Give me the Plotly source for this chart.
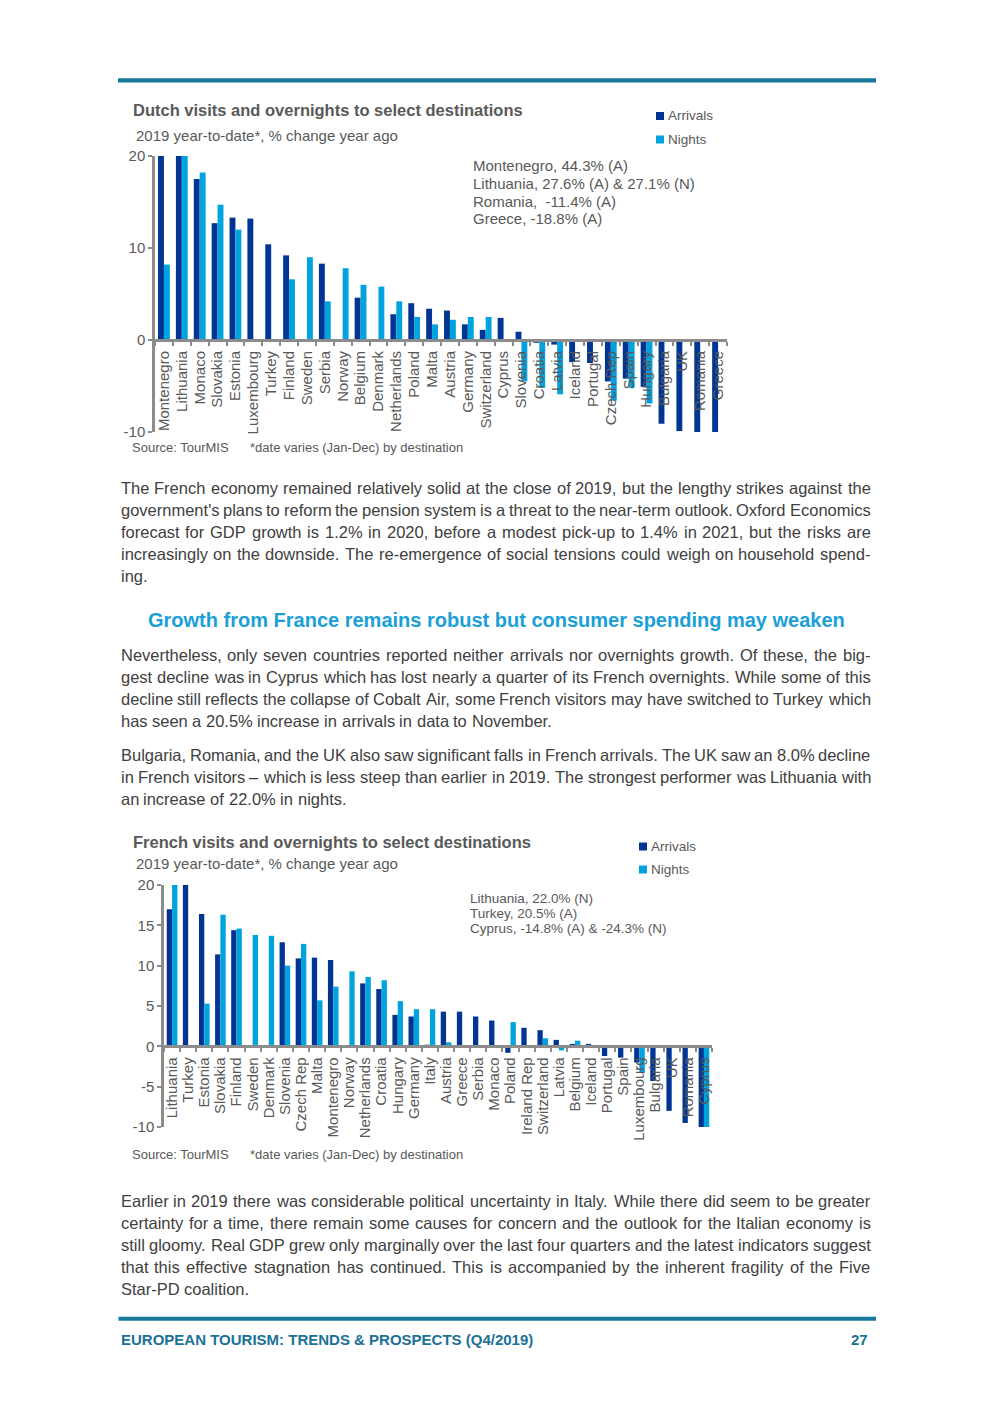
import plotly.graph_objects as go

# ---------------- data ----------------
dutch_countries = ["Montenegro", "Lithuania", "Monaco", "Slovakia", "Estonia", "Luxembourg", "Turkey",
                   "Finland", "Sweden", "Serbia", "Norway", "Belgium", "Denmark", "Netherlands", "Poland",
                   "Malta", "Austria", "Germany", "Switzerland", "Cyprus", "Slovenia", "Croatia", "Latvia",
                   "Iceland", "Portugal", "Czech Rep", "Spain", "Hungary", "Bulgaria", "UK", "Romania", "Greece"]
dutch_arrivals = [44.3, 27.6, 17.5, 12.7, 13.3, 13.2, 10.4, 9.2, None, 8.3, None, 4.6, None, 2.8, 4.0,
                  3.4, 3.2, 1.7, 1.1, 2.4, 0.9, -0.3, -0.5, -2.4, -2.5, -4.5, -4.2, -5.1, -9.1, -9.9, -11.4, -18.8]
dutch_nights = [8.2, 27.1, 18.2, 14.7, 12.0, -0.2, None, 6.6, 9.0, 4.2, 7.8, 6.0, 5.8, 4.2, 2.5,
                1.7, 2.2, 2.5, 2.5, None, -4.5, -5.2, -5.9, None, None, -6.6, -5.2, -6.9, None, None, None, None]

french_countries = ["Lithuania", "Turkey", "Estonia", "Slovakia", "Finland", "Sweden", "Denmark", "Slovenia",
                    "Czech Rep", "Malta", "Montenegro", "Norway", "Netherlands", "Croatia", "Hungary", "Germany",
                    "Italy", "Austria", "Greece", "Serbia", "Monaco", "Poland", "Ireland Rep", "Switzerland",
                    "Latvia", "Belgium", "Iceland", "Portugal", "Spain", "Luxembourg", "Bulgaria", "UK",
                    "Romania", "Cyprus"]
french_arrivals = [17.0, 20.5, 16.4, 11.4, 14.4, None, None, 12.9, 10.9, 11.0, 10.7, None, 7.8, 7.1, 3.9, 3.7,
                   0.2, 4.3, 4.3, 3.7, 3.2, -0.8, 2.3, 2.0, 0.8, 0.3, 0.3, -1.2, -1.4, -2.0, -4.3, -8.0,
                   -9.5, -14.8]
french_nights = [22.0, None, 5.3, 16.3, 14.6, 13.8, 13.7, 10.0, 12.7, 5.7, 7.4, 9.3, 8.6, 8.2, 5.6, 4.6,
                 4.6, 0.5, None, None, None, 3.0, None, 1.0, -0.5, 0.7, None, None, None, -3.3, None, None,
                 None, -24.3]

dutch_yticks = [-10, 0, 10, 20]
french_yticks = [-10, -5, 0, 5, 10, 15, 20]
y_range = [-10, 20]

dutch_notes = ["Montenegro, 44.3% (A)", "Lithuania, 27.6% (A) & 27.1% (N)", "Romania,  -11.4% (A)",
               "Greece, -18.8% (A)"]
french_notes = ["Lithuania, 22.0% (N)", "Turkey, 20.5% (A)", "Cyprus, -14.8% (A) & -24.3% (N)"]

para1 = ["The French economy remained relatively solid at the close of 2019, but the lengthy strikes against the",
         "government's plans to reform the pension system is a threat to the near-term outlook. Oxford Economics",
         "forecast for GDP growth is 1.2% in 2020, before a modest pick-up to 1.4% in 2021, but the risks are",
         "increasingly on the downside. The re-emergence of social tensions could weigh on household spend-",
         "ing."]
heading = "Growth from France remains robust but consumer spending may weaken"
para2 = ["Nevertheless, only seven countries reported neither arrivals nor overnights growth. Of these, the big-",
         "gest decline was in Cyprus which has lost nearly a quarter of its French overnights. While some of this",
         "decline still reflects the collapse of Cobalt Air, some French visitors may have switched to Turkey which",
         "has seen a 20.5% increase in arrivals in data to November."]
para3 = ["Bulgaria, Romania, and the UK also saw significant falls in French arrivals. The UK saw an 8.0% decline",
         "in French visitors \u2013 which is less steep than earlier in 2019. The strongest performer was Lithuania with",
         "an increase of 22.0% in nights."]
para4 = ["Earlier in 2019 there was considerable political uncertainty in Italy. While there did seem to be greater",
         "certainty for a time, there remain some causes for concern and the outlook for the Italian economy is",
         "still gloomy. Real GDP grew only marginally over the last four quarters and the latest indicators suggest",
         "that this effective stagnation has continued. This is accompanied by the inherent fragility of the Five",
         "Star-PD coalition."]

# ---------------- styling ----------------
W_PAGE, H_PAGE = 992, 1403
FONT = "Liberation Sans, Arial, sans-serif"
ARR = "#003594"
NIG = "#00A3DD"
AXIS_GREY = "#8C8C8C"
CHART_TXT = "#595959"
BODY_TXT = "#404040"
HEAD_BLUE = "#1AA0D8"
RULE = "#16799C"
FOOT_BLUE = "#1B7196"


def px(x):
    return x / W_PAGE


def py(y):
    return 1 - y / H_PAGE


# Helvetica / Arial advance widths (1/1000 em)
WID = {' ': 278, '!': 278, '"': 355, '%': 889, '&': 667, "'": 191, '(': 333, ')': 333, '*': 389, ',': 278,
       '-': 333, '.': 278, '/': 278, ':': 278, ';': 278, '?': 556, '\u2013': 556,
       'A': 667, 'B': 667, 'C': 722, 'D': 722, 'E': 667, 'F': 611, 'G': 778, 'H': 722, 'I': 278, 'J': 500,
       'K': 667, 'L': 556, 'M': 833, 'N': 722, 'O': 778, 'P': 667, 'Q': 778, 'R': 722, 'S': 667, 'T': 611,
       'U': 722, 'V': 667, 'W': 944, 'X': 667, 'Y': 667, 'Z': 611,
       'a': 556, 'b': 556, 'c': 500, 'd': 556, 'e': 556, 'f': 278, 'g': 556, 'h': 556, 'i': 222, 'j': 222,
       'k': 500, 'l': 222, 'm': 833, 'n': 556, 'o': 556, 'p': 556, 'q': 556, 'r': 333, 's': 500, 't': 278,
       'u': 556, 'v': 500, 'w': 722, 'x': 500, 'y': 500, 'z': 500}
for d in "0123456789":
    WID[d] = 556


def tw(s, fs):
    return sum(WID.get(c, 556) for c in s) * fs / 1000.0


fig = go.Figure()

# ---------------- charts ----------------
charts = [
    dict(cat=dutch_countries, a=dutch_arrivals, n=dutch_nights, xd=(155, 727), yd=(156, 432),
         ticks=dutch_yticks, xa="x", ya="y"),
    dict(cat=french_countries, a=french_arrivals, n=french_nights, xd=(164, 712), yd=(885, 1127),
         ticks=french_yticks, xa="x2", ya="y2"),
]

for i, c in enumerate(charts):
    fig.add_trace(go.Bar(x=c["cat"], y=c["a"], name="Arrivals", marker=dict(color=ARR, line=dict(width=0)),
                         xaxis=c["xa"], yaxis=c["ya"], showlegend=False))
    fig.add_trace(go.Bar(x=c["cat"], y=c["n"], name="Nights", marker=dict(color=NIG, line=dict(width=0)),
                         xaxis=c["xa"], yaxis=c["ya"], showlegend=False))
    ydom = [py(c["yd"][1]), py(c["yd"][0])]
    zero_pos = ydom[0] + (0 - y_range[0]) / (y_range[1] - y_range[0]) * (ydom[1] - ydom[0])
    suffix = "" if i == 0 else "2"
    fig.layout["xaxis" + suffix] = dict(
        domain=[px(c["xd"][0]), px(c["xd"][1])], anchor="free", position=zero_pos, type="category",
        showline=True, linecolor=AXIS_GREY, linewidth=3, ticks="outside", tickson="boundaries",
        ticklen=4, tickwidth=1.5, tickcolor=AXIS_GREY, tickangle=-90, dtick=1,
        tickfont=dict(family=FONT, size=15, color=CHART_TXT), showgrid=False, zeroline=False,
        ticklabelstandoff=3, automargin=False, fixedrange=True)
    fig.layout["yaxis" + suffix] = dict(
        domain=ydom, anchor="x" + suffix, range=y_range, tickmode="array", tickvals=c["ticks"],
        ticktext=[str(v) for v in c["ticks"]], showline=True, linecolor=AXIS_GREY, linewidth=2.5,
        ticks="outside", ticklen=4, tickwidth=1.5, tickcolor=AXIS_GREY,
        tickfont=dict(family=FONT, size=15, color=CHART_TXT), showgrid=False, zeroline=False,
        automargin=False, fixedrange=True)


def add_text(x, y, text, size, color, anchor="left"):
    fig.add_annotation(x=px(x), y=py(y), xref="paper", yref="paper", text=text, showarrow=False,
                       xanchor=anchor, yanchor="middle", borderpad=0,
                       font=dict(family=FONT, size=size, color=color))


def legend_item(x, y, label, color):
    fig.add_shape(type="rect", xref="paper", yref="paper", x0=px(x), x1=px(x + 8), y0=py(y + 4), y1=py(y - 4),
                  fillcolor=color, line=dict(width=0))
    add_text(x + 11, y, label, 13.5, CHART_TXT)


# chart 1 texts
add_text(132, 110, "<b>Dutch visits and overnights to select destinations</b>", 16.5, CHART_TXT)
add_text(134.5, 135.5, "2019 year-to-date*, % change year ago", 15, CHART_TXT)
legend_item(656, 116, "Arrivals", ARR)
legend_item(656, 139.5, "Nights", NIG)
for k, t in enumerate(dutch_notes):
    add_text(471.5, 166 + 17.5 * k, t, 15, CHART_TXT)
add_text(131, 447.5, "Source: TourMIS", 13, CHART_TXT)
add_text(249, 447.5, "*date varies (Jan-Dec) by destination", 13, CHART_TXT)

# chart 2 texts
add_text(132, 842, "<b>French visits and overnights to select destinations</b>", 16.5, CHART_TXT)
add_text(134.5, 863.5, "2019 year-to-date*, % change year ago", 15, CHART_TXT)
legend_item(639, 846.5, "Arrivals", ARR)
legend_item(639, 869.5, "Nights", NIG)
for k, t in enumerate(french_notes):
    add_text(469, 898 + 15.2 * k, t, 13.5, CHART_TXT)
add_text(131, 1154, "Source: TourMIS", 13, CHART_TXT)
add_text(249, 1154, "*date varies (Jan-Dec) by destination", 13, CHART_TXT)

# ---------------- body text (justified) ----------------
L, R = 119.5, 869.5
FS = 16.5
LH = 22


def paragraph(y0, lines):
    for li, line in enumerate(lines):
        words = line.split(" ")
        widths = [tw(w, FS) for w in words]
        last = li == len(lines) - 1
        if last or len(words) == 1:
            gap = tw(" ", FS)
        else:
            gap = (R - L - sum(widths)) / (len(words) - 1)
        xcur = L
        y = y0 + LH * li
        for w, wd in zip(words, widths):
            add_text(xcur, y, w, FS, BODY_TXT)
            xcur += wd + gap


paragraph(487.5, para1)
add_text(496, 619.5, "<b>" + heading + "</b>", 20, HEAD_BLUE, anchor="center")
paragraph(655, para2)
paragraph(755, para3)
paragraph(1200.5, para4)

# ---------------- rules & footer ----------------
fig.add_shape(type="rect", xref="paper", yref="paper", x0=px(118), x1=px(876), y0=py(82.5), y1=py(78.2),
              fillcolor=RULE, line=dict(width=0))
fig.add_shape(type="rect", xref="paper", yref="paper", x0=px(118.5), x1=px(876), y0=py(1320.7), y1=py(1316.7),
              fillcolor=RULE, line=dict(width=0))
add_text(120, 1339.5, "<b>EUROPEAN TOURISM: TRENDS &amp; PROSPECTS (Q4/2019)</b>", 15, FOOT_BLUE)
add_text(868.5, 1339.5, "<b>27</b>", 15, FOOT_BLUE, anchor="right")

fig.update_layout(
    width=W_PAGE, height=H_PAGE, margin=dict(l=0, r=0, t=0, b=0), autosize=False,
    paper_bgcolor="white", plot_bgcolor="white", barmode="group", bargap=0.34, bargroupgap=0,
    font=dict(family=FONT, color=CHART_TXT), showlegend=False,
)

fig.write_html("out.html", config={"displayModeBar": False},
               post_script="document.body.style.margin='0';")
